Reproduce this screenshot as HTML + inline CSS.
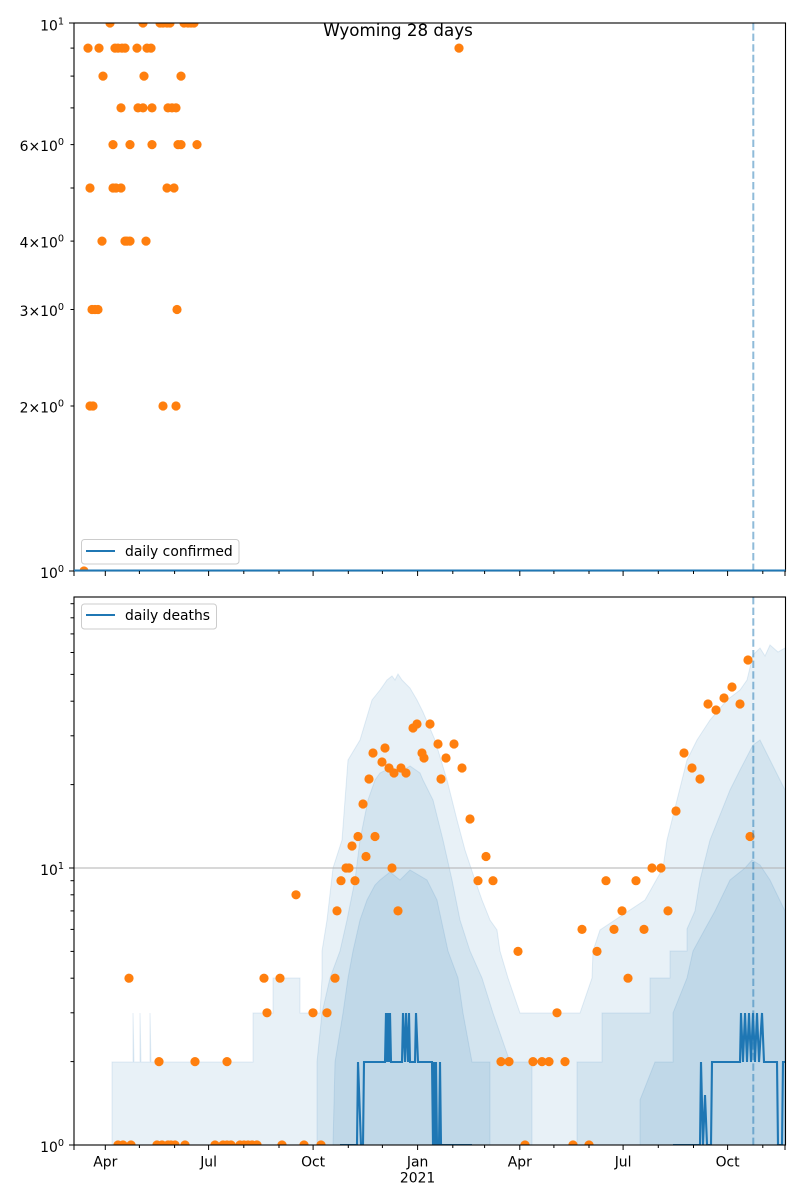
<!DOCTYPE html>
<html><head><meta charset="utf-8"><style>
html,body{margin:0;padding:0;background:#fff;}
svg{display:block;}
text{font-family:"DejaVu Sans","Liberation Sans",sans-serif;fill:#000;}
</style></head><body>
<svg width="800" height="1200" viewBox="0 0 800 1200" xmlns="http://www.w3.org/2000/svg">
<defs>
<clipPath id="c1"><rect x="74" y="23" width="711.5" height="548"/></clipPath>
<clipPath id="c2"><rect x="74" y="597" width="711.5" height="548"/></clipPath>
</defs>
<rect width="800" height="1200" fill="#fff"/>

<!-- ============ TOP AXES ============ -->
<g clip-path="url(#c1)">
<line x1="753.3" y1="23" x2="753.3" y2="571" stroke="rgba(31,119,180,0.5)" stroke-width="2" stroke-dasharray="7.4,3.2"/>
<g fill="#ff7f0e">
<circle cx="110" cy="23" r="4.6"/><circle cx="143" cy="23" r="4.6"/><circle cx="160" cy="23" r="4.6"/><circle cx="163" cy="23" r="4.6"/><circle cx="167" cy="23" r="4.6"/><circle cx="170" cy="23" r="4.6"/><circle cx="184" cy="23" r="4.6"/><circle cx="188" cy="23" r="4.6"/><circle cx="191" cy="23" r="4.6"/><circle cx="194" cy="23" r="4.6"/>
<circle cx="88" cy="48.1" r="4.6"/><circle cx="99" cy="48.1" r="4.6"/><circle cx="115" cy="48.1" r="4.6"/><circle cx="118" cy="48.1" r="4.6"/><circle cx="122" cy="48.1" r="4.6"/><circle cx="125" cy="48.1" r="4.6"/><circle cx="137" cy="48.1" r="4.6"/><circle cx="147" cy="48.1" r="4.6"/><circle cx="151" cy="48.1" r="4.6"/><circle cx="459" cy="48.1" r="4.6"/>
<circle cx="103" cy="76.1" r="4.6"/><circle cx="144" cy="76.1" r="4.6"/><circle cx="181" cy="76.1" r="4.6"/>
<circle cx="121" cy="107.9" r="4.6"/><circle cx="138" cy="107.9" r="4.6"/><circle cx="143" cy="107.9" r="4.6"/><circle cx="152" cy="107.9" r="4.6"/><circle cx="168" cy="107.9" r="4.6"/><circle cx="172" cy="107.9" r="4.6"/><circle cx="176" cy="107.9" r="4.6"/>
<circle cx="113" cy="144.6" r="4.6"/><circle cx="130" cy="144.6" r="4.6"/><circle cx="152" cy="144.6" r="4.6"/><circle cx="178" cy="144.6" r="4.6"/><circle cx="181" cy="144.6" r="4.6"/><circle cx="197" cy="144.6" r="4.6"/>
<circle cx="90" cy="188" r="4.6"/><circle cx="113" cy="188" r="4.6"/><circle cx="116" cy="188" r="4.6"/><circle cx="121" cy="188" r="4.6"/><circle cx="167" cy="188" r="4.6"/><circle cx="174" cy="188" r="4.6"/>
<circle cx="102" cy="241.1" r="4.6"/><circle cx="125" cy="241.1" r="4.6"/><circle cx="127" cy="241.1" r="4.6"/><circle cx="130" cy="241.1" r="4.6"/><circle cx="146" cy="241.1" r="4.6"/>
<circle cx="92" cy="309.5" r="4.6"/><circle cx="95" cy="309.5" r="4.6"/><circle cx="98" cy="309.5" r="4.6"/><circle cx="177" cy="309.5" r="4.6"/>
<circle cx="90" cy="406" r="4.6"/><circle cx="93" cy="406" r="4.6"/><circle cx="163" cy="406" r="4.6"/><circle cx="176" cy="406" r="4.6"/>
<circle cx="84" cy="571" r="4.6"/>
</g>
</g>
<rect x="74" y="23" width="711.5" height="548" fill="none" stroke="#000" stroke-width="1.1"/>
<line x1="74" y1="570.5" x2="785.5" y2="570.5" stroke="#1f77b4" stroke-width="2"/>

<!-- top y ticks -->
<g stroke="#000" stroke-width="1">
<line x1="69" y1="23" x2="74" y2="23"/><line x1="69" y1="571" x2="74" y2="571"/>
<line x1="70.5" y1="406" x2="74" y2="406"/><line x1="70.5" y1="309.5" x2="74" y2="309.5"/><line x1="70.5" y1="241.1" x2="74" y2="241.1"/><line x1="70.5" y1="188" x2="74" y2="188"/><line x1="70.5" y1="144.6" x2="74" y2="144.6"/><line x1="70.5" y1="107.9" x2="74" y2="107.9"/><line x1="70.5" y1="76.1" x2="74" y2="76.1"/><line x1="70.5" y1="48.1" x2="74" y2="48.1"/>
</g>
<g font-size="13.9" text-anchor="end">
<text x="64" y="30.5">10<tspan dy="-6" font-size="9.7">1</tspan></text>
<text x="64" y="151">6×10<tspan dy="-6" font-size="9.7">0</tspan></text>
<text x="64" y="247.6">4×10<tspan dy="-6" font-size="9.7">0</tspan></text>
<text x="64" y="316">3×10<tspan dy="-6" font-size="9.7">0</tspan></text>
<text x="64" y="412.5">2×10<tspan dy="-6" font-size="9.7">0</tspan></text>
<text x="64" y="578">10<tspan dy="-6" font-size="9.7">0</tspan></text>
</g>
<!-- top x ticks -->
<g stroke="#000" stroke-width="1">
<line x1="74" y1="571" x2="74" y2="576"/><line x1="105.3" y1="571" x2="105.3" y2="576"/><line x1="208.6" y1="571" x2="208.6" y2="576"/><line x1="313.1" y1="571" x2="313.1" y2="576"/><line x1="417.6" y1="571" x2="417.6" y2="576"/><line x1="519.8" y1="571" x2="519.8" y2="576"/><line x1="623.1" y1="571" x2="623.1" y2="576"/><line x1="727.6" y1="571" x2="727.6" y2="576"/><line x1="785" y1="571" x2="785" y2="576"/>
<line x1="139.4" y1="571" x2="139.4" y2="574"/><line x1="174.6" y1="571" x2="174.6" y2="574"/><line x1="243.8" y1="571" x2="243.8" y2="574"/><line x1="279" y1="571" x2="279" y2="574"/><line x1="348.3" y1="571" x2="348.3" y2="574"/><line x1="382.4" y1="571" x2="382.4" y2="574"/><line x1="452.8" y1="571" x2="452.8" y2="574"/><line x1="484.6" y1="571" x2="484.6" y2="574"/><line x1="553.9" y1="571" x2="553.9" y2="574"/><line x1="589" y1="571" x2="589" y2="574"/><line x1="658.3" y1="571" x2="658.3" y2="574"/><line x1="693.5" y1="571" x2="693.5" y2="574"/><line x1="762.8" y1="571" x2="762.8" y2="574"/>
</g>
<!-- top legend -->
<rect x="81.5" y="539.5" width="157.5" height="24.5" rx="3" fill="rgba(255,255,255,0.8)" stroke="#cccccc" stroke-width="1"/>
<line x1="86" y1="551" x2="115" y2="551" stroke="#1f77b4" stroke-width="2"/>
<text x="125" y="556" font-size="13.9">daily confirmed</text>
<!-- title -->
<text x="398" y="36" font-size="16.7" text-anchor="middle">Wyoming 28 days</text>

<!-- ============ BOTTOM AXES ============ -->
<g clip-path="url(#c2)">
<g fill="rgba(31,119,180,0.1)" stroke="rgba(31,119,180,0.12)" stroke-width="1">
<path d="M112,1145 L112,1062 L133,1062 L133,1013 L134,1062 L140,1062 L140,1013 L141,1062 L150,1062 L150,1013 L151,1062 L253,1062 L253,1013 L273,1013 L273,978 L300,978 L300,1013 L320,1013 L322,978 L322,951 L327,920 L333,868 L342,840 L348,760 L360,740 L372,700 L380,690 L387,680 L392,676 L395,680 L398,674 L402,680 L410,688 L417,700 L423,712 L435,740 L447,780 L457,820 L465,850 L475,880 L482,900 L490,920 L497,930 L500,951 L508,978 L520,1013 L580,1013 L592,978 L593,951 L600,930 L645,900 L663,868 L667,840 L677,800 L687,760 L697,740 L710,720 L727,700 L740,690 L747,680 L753,655 L760,648 L765,656 L770,645 L778,652 L785,648 L785,1145 Z"/>
<path d="M317,1145 L317,1062 L322,1013 L330,978 L340,951 L347,920 L355,880 L360,840 L368,800 L375,780 L380,773 L390,768 L400,772 L410,766 L420,773 L423,780 L433,800 L443,840 L452,880 L460,920 L470,951 L482,978 L493,1013 L510,1062 L532,1062 L532,1145 Z"/>
<path d="M577,1145 L577,1062 L602,1062 L602,1013 L650,1013 L650,978 L670,978 L670,951 L687,951 L687,929 L695,911 L700,880 L710,840 L730,790 L740,770 L753,745 L760,740 L770,760 L785,790 L785,1145 Z"/>
<path d="M333,1145 L335,1062 L343,1013 L348,978 L353,951 L360,920 L367,900 L375,885 L380,880 L390,872 L400,880 L410,870 L427,880 L437,900 L448,951 L458,978 L463,1013 L472,1062 L490,1062 L490,1145 Z"/>
<path d="M640,1145 L640,1100 L655,1062 L673,1062 L673,1013 L687,978 L693,951 L705,929 L715,911 L730,880 L745,868 L752,860 L760,865 L770,880 L785,911 L785,1145 Z"/>
</g>
<line x1="74" y1="868" x2="785.5" y2="868" stroke="#b0b0b0" stroke-width="1.1"/>
<g fill="none" stroke="#1f77b4" stroke-width="2.1" stroke-linejoin="miter">
<path d="M340,1145 L357,1145 L358,1062 L361,1145 L363,1145 L364,1062 L385,1062 L386,1013 L387,1062 L388,1013 L389,1062 L390,1013 L391,1062 L402,1062 L403,1013 L405,1062 L406,1013 L408,1062 L409,1013 L410,1062 L415,1062 L416,1013 L418,1062 L432,1062 L433,1145 L434,1062 L435,1145 L436,1062 L437,1145 L439,1145 L440,1062 L441,1145 L472,1145"/>
<path d="M673,1145 L700,1145 L701,1062 L703,1145 L705,1095 L707,1145 L711,1145 L712,1062 L740,1062 L741,1013 L743,1062 L745,1013 L747,1062 L749,1013 L751,1062 L753,1013 L755,1062 L757,1013 L759,1062 L762,1013 L764,1062 L777,1062 L778,1145 L782,1145 L783,1062 L786,1062"/>
</g>
<g fill="#ff7f0e">
<circle cx="118" cy="1145" r="4.6"/><circle cx="123" cy="1145" r="4.6"/><circle cx="131" cy="1145" r="4.6"/><circle cx="157" cy="1145" r="4.6"/><circle cx="162" cy="1145" r="4.6"/><circle cx="168" cy="1145" r="4.6"/><circle cx="171" cy="1145" r="4.6"/><circle cx="175" cy="1145" r="4.6"/><circle cx="185" cy="1145" r="4.6"/><circle cx="215" cy="1145" r="4.6"/><circle cx="223" cy="1145" r="4.6"/><circle cx="227" cy="1145" r="4.6"/><circle cx="231" cy="1145" r="4.6"/><circle cx="240" cy="1145" r="4.6"/><circle cx="244" cy="1145" r="4.6"/><circle cx="248" cy="1145" r="4.6"/><circle cx="252" cy="1145" r="4.6"/><circle cx="257" cy="1145" r="4.6"/><circle cx="282" cy="1145" r="4.6"/><circle cx="304" cy="1145" r="4.6"/><circle cx="321" cy="1145" r="4.6"/><circle cx="525" cy="1145" r="4.6"/><circle cx="573" cy="1145" r="4.6"/><circle cx="589" cy="1145" r="4.6"/>
<circle cx="159" cy="1061.6" r="4.6"/><circle cx="195" cy="1061.6" r="4.6"/><circle cx="227" cy="1061.6" r="4.6"/><circle cx="501" cy="1061.6" r="4.6"/><circle cx="509" cy="1061.6" r="4.6"/><circle cx="533" cy="1061.6" r="4.6"/><circle cx="542" cy="1061.6" r="4.6"/><circle cx="549" cy="1061.6" r="4.6"/><circle cx="565" cy="1061.6" r="4.6"/>
<circle cx="267" cy="1012.8" r="4.6"/><circle cx="313" cy="1012.8" r="4.6"/><circle cx="327" cy="1012.8" r="4.6"/><circle cx="557" cy="1012.8" r="4.6"/>
<circle cx="129" cy="978.2" r="4.6"/><circle cx="264" cy="978.2" r="4.6"/><circle cx="280" cy="978.2" r="4.6"/><circle cx="335" cy="978.2" r="4.6"/><circle cx="628" cy="978.2" r="4.6"/>
<circle cx="518" cy="951.4" r="4.6"/><circle cx="597" cy="951.4" r="4.6"/>
<circle cx="582" cy="929.4" r="4.6"/><circle cx="614" cy="929.4" r="4.6"/><circle cx="644" cy="929.4" r="4.6"/>
<circle cx="337" cy="910.9" r="4.6"/><circle cx="398" cy="910.9" r="4.6"/><circle cx="622" cy="910.9" r="4.6"/><circle cx="668" cy="910.9" r="4.6"/>
<circle cx="296" cy="894.8" r="4.6"/>
<circle cx="341" cy="880.7" r="4.6"/><circle cx="355" cy="880.7" r="4.6"/><circle cx="478" cy="880.7" r="4.6"/><circle cx="493" cy="880.7" r="4.6"/><circle cx="606" cy="880.7" r="4.6"/><circle cx="636" cy="880.7" r="4.6"/>
<circle cx="346" cy="868" r="4.6"/><circle cx="349" cy="868" r="4.6"/><circle cx="392" cy="868" r="4.6"/><circle cx="652" cy="868" r="4.6"/><circle cx="661" cy="868" r="4.6"/>
<circle cx="366" cy="856.5" r="4.6"/><circle cx="486" cy="856.5" r="4.6"/>
<circle cx="352" cy="846" r="4.6"/>
<circle cx="358" cy="836.5" r="4.6"/><circle cx="375" cy="836.5" r="4.6"/><circle cx="750" cy="836.5" r="4.6"/>
<circle cx="470" cy="819" r="4.6"/>
<circle cx="676" cy="811" r="4.6"/>
<circle cx="363" cy="804" r="4.6"/>
<circle cx="369" cy="779" r="4.6"/><circle cx="441" cy="779" r="4.6"/><circle cx="700" cy="779" r="4.6"/>
<circle cx="394" cy="773" r="4.6"/><circle cx="406" cy="773" r="4.6"/>
<circle cx="389" cy="768" r="4.6"/><circle cx="401" cy="768" r="4.6"/><circle cx="462" cy="768" r="4.6"/><circle cx="692" cy="768" r="4.6"/>
<circle cx="382" cy="762" r="4.6"/>
<circle cx="424" cy="758" r="4.6"/><circle cx="446" cy="758" r="4.6"/>
<circle cx="373" cy="753" r="4.6"/><circle cx="422" cy="753" r="4.6"/><circle cx="684" cy="753" r="4.6"/>
<circle cx="385" cy="748" r="4.6"/>
<circle cx="438" cy="744" r="4.6"/><circle cx="454" cy="744" r="4.6"/>
<circle cx="413" cy="728" r="4.6"/>
<circle cx="417" cy="724" r="4.6"/><circle cx="430" cy="724" r="4.6"/>
<circle cx="716" cy="710" r="4.6"/>
<circle cx="708" cy="704" r="4.6"/><circle cx="740" cy="704" r="4.6"/>
<circle cx="724" cy="698" r="4.6"/>
<circle cx="732" cy="687" r="4.6"/>
<circle cx="748" cy="660" r="4.6"/>
</g>
<line x1="753.3" y1="597" x2="753.3" y2="1145" stroke="rgba(31,119,180,0.5)" stroke-width="2" stroke-dasharray="7.4,3.2"/>
</g>
<rect x="74" y="597" width="711.5" height="548" fill="none" stroke="#000" stroke-width="1.1"/>

<!-- bottom y ticks -->
<g stroke="#000" stroke-width="1">
<line x1="69" y1="868" x2="74" y2="868"/><line x1="69" y1="1145" x2="74" y2="1145"/>
<line x1="70.5" y1="1061.6" x2="74" y2="1061.6"/><line x1="70.5" y1="1012.8" x2="74" y2="1012.8"/><line x1="70.5" y1="978.2" x2="74" y2="978.2"/><line x1="70.5" y1="951.4" x2="74" y2="951.4"/><line x1="70.5" y1="929.4" x2="74" y2="929.4"/><line x1="70.5" y1="910.9" x2="74" y2="910.9"/><line x1="70.5" y1="894.8" x2="74" y2="894.8"/><line x1="70.5" y1="880.7" x2="74" y2="880.7"/>
<line x1="70.5" y1="784.6" x2="74" y2="784.6"/><line x1="70.5" y1="735.8" x2="74" y2="735.8"/><line x1="70.5" y1="701.2" x2="74" y2="701.2"/><line x1="70.5" y1="674.4" x2="74" y2="674.4"/><line x1="70.5" y1="652.5" x2="74" y2="652.5"/><line x1="70.5" y1="633.9" x2="74" y2="633.9"/><line x1="70.5" y1="617.8" x2="74" y2="617.8"/><line x1="70.5" y1="603.7" x2="74" y2="603.7"/>
</g>
<g font-size="13.9" text-anchor="end">
<text x="64" y="875">10<tspan dy="-6" font-size="9.7">1</tspan></text>
<text x="64" y="1152">10<tspan dy="-6" font-size="9.7">0</tspan></text>
</g>
<!-- bottom x ticks -->
<g stroke="#000" stroke-width="1">
<line x1="74" y1="1145" x2="74" y2="1150"/><line x1="105.3" y1="1145" x2="105.3" y2="1150"/><line x1="208.6" y1="1145" x2="208.6" y2="1150"/><line x1="313.1" y1="1145" x2="313.1" y2="1150"/><line x1="417.6" y1="1145" x2="417.6" y2="1150"/><line x1="519.8" y1="1145" x2="519.8" y2="1150"/><line x1="623.1" y1="1145" x2="623.1" y2="1150"/><line x1="727.6" y1="1145" x2="727.6" y2="1150"/><line x1="785" y1="1145" x2="785" y2="1150"/>
<line x1="139.4" y1="1145" x2="139.4" y2="1148"/><line x1="174.6" y1="1145" x2="174.6" y2="1148"/><line x1="243.8" y1="1145" x2="243.8" y2="1148"/><line x1="279" y1="1145" x2="279" y2="1148"/><line x1="348.3" y1="1145" x2="348.3" y2="1148"/><line x1="382.4" y1="1145" x2="382.4" y2="1148"/><line x1="452.8" y1="1145" x2="452.8" y2="1148"/><line x1="484.6" y1="1145" x2="484.6" y2="1148"/><line x1="553.9" y1="1145" x2="553.9" y2="1148"/><line x1="589" y1="1145" x2="589" y2="1148"/><line x1="658.3" y1="1145" x2="658.3" y2="1148"/><line x1="693.5" y1="1145" x2="693.5" y2="1148"/><line x1="762.8" y1="1145" x2="762.8" y2="1148"/>
</g>
<g font-size="13.9" text-anchor="middle">
<text x="105.3" y="1166.5">Apr</text>
<text x="208.6" y="1166.5">Jul</text>
<text x="313.1" y="1166.5">Oct</text>
<text x="417.6" y="1166.5">Jan</text>
<text x="417.6" y="1182.5">2021</text>
<text x="519.8" y="1166.5">Apr</text>
<text x="623.1" y="1166.5">Jul</text>
<text x="727.6" y="1166.5">Oct</text>
</g>
<!-- bottom legend -->
<rect x="81.5" y="604" width="135" height="25" rx="3" fill="rgba(255,255,255,0.8)" stroke="#cccccc" stroke-width="1"/>
<line x1="86" y1="615" x2="115" y2="615" stroke="#1f77b4" stroke-width="2"/>
<text x="125" y="620" font-size="13.9">daily deaths</text>
</svg>
</body></html>
